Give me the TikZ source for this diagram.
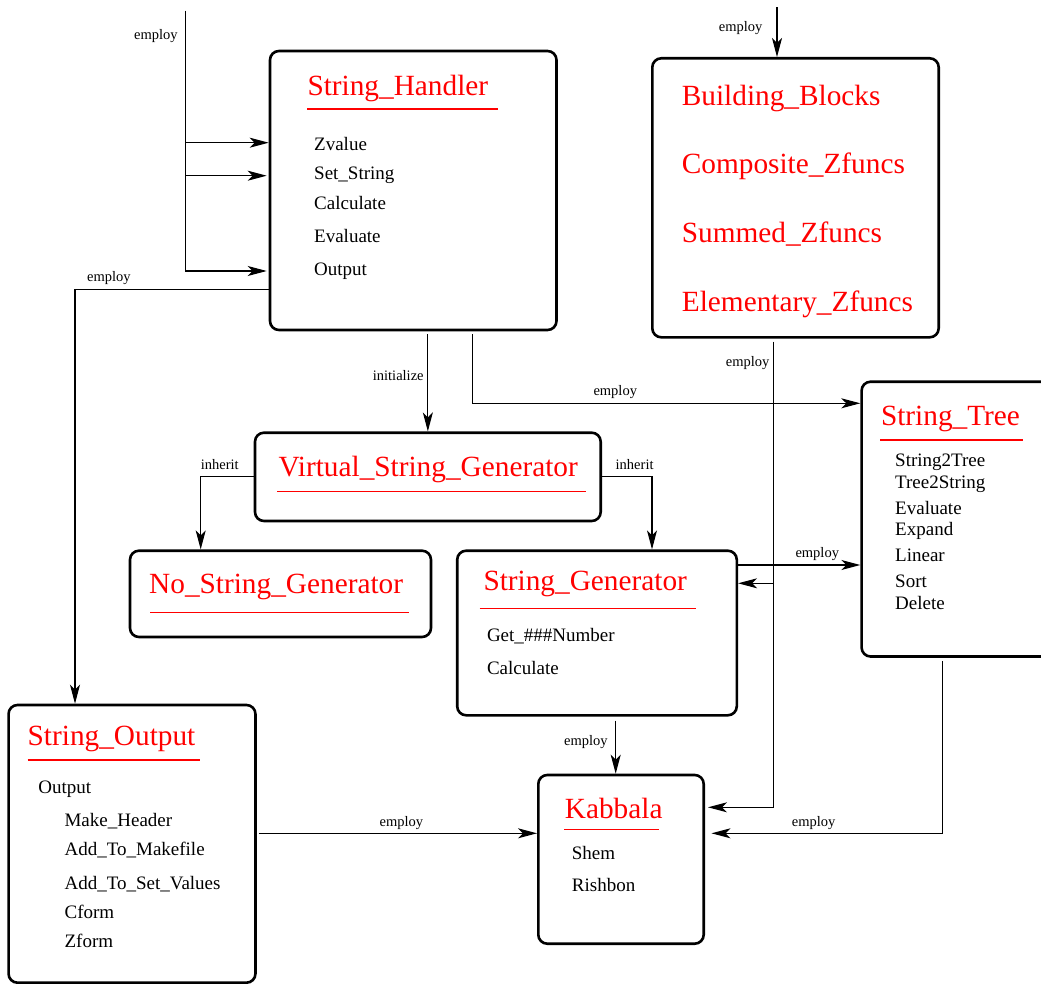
\documentclass[tikz,border=0pt]{standalone}
\usepackage{fontspec}
\setmainfont{Liberation Serif}
\usetikzlibrary{arrows.meta}
\begin{document}
\begin{tikzpicture}[x=1pt,y=-1pt,
  box/.style={draw, line width=2.6pt, rounded corners=9pt, inner sep=0pt},
  title/.style={anchor=base west, inner sep=0pt, text=red, font=\fontsize{29.3}{33}\selectfont},
  item/.style={anchor=base west, inner sep=0pt, font=\fontsize{19}{22}\selectfont},
  lbl/.style={anchor=base west, inner sep=0pt, font=\fontsize{14.5}{17}\selectfont},
  conn/.style={line width=1.1pt},
  arr/.style={conn, -{Stealth[length=19pt,width=10pt,inset=5pt]}},
  uline/.style={red, line width=1.5pt}]
\clip (0,0) rectangle (1041,984);
\fill[white] (0,0) rectangle (1041,984);

% boxes
\node[box, minimum width=286.5pt, minimum height=279pt] (sh) at (413.25,190.5) {};
\node[box, minimum width=286.4pt, minimum height=279pt] (bb) at (795.5,197.8) {};
\node[box, minimum width=345.7pt, minimum height=88.3pt] (vsg) at (427.85,476.85) {};
\node[box, minimum width=301pt, minimum height=86.3pt] (nsg) at (280.5,593.85) {};
\node[box, minimum width=279.6pt, minimum height=164.6pt] (sg) at (597,633) {};
\node[box, minimum width=198.4pt, minimum height=274.8pt] (st) at (960.8,519.1) {};
\node[box, minimum width=246.9pt, minimum height=277.7pt] (so) at (132,843.85) {};
\node[box, minimum width=165.4pt, minimum height=168.7pt] (kb) at (621,859.35) {};

% String_Handler
\node[title] (shT) at (307.3,95.7) {String\_Handler};
\draw[uline] (307.3,109) -- (497.7,109);
\node[item] (sh1) at (314,150.5) {Zvalue};
\node[item] (sh2) at (314,180) {Set\_String};
\node[item] (sh3) at (314,209.5) {Calculate};
\node[item] (sh4) at (314,242.5) {Evaluate};
\node[item] (sh5) at (314,275.5) {Output};

% Building blocks
\node[title] (bb1) at (681.7,106) {Building\_Blocks};
\node[title] (bb2) at (681.7,173.3) {Composite\_Zfuncs};
\node[title] (bb3) at (681.7,242.3) {Summed\_Zfuncs};
\node[title] (bb4) at (681.7,311.7) {Elementary\_Zfuncs};

% Virtual_String_Generator
\node[title] (vsgT) at (278.3,476.7) {Virtual\_String\_Generator};
\draw[uline] (277,491.7) -- (585.7,491.7);

% No_String_Generator
\node[title] (nsgT) at (149,593.3) {No\_String\_Generator};
\draw[uline] (150,612.7) -- (409.3,612.7);

% String_Generator
\node[title] (sgT) at (483.3,590) {String\_Generator};
\draw[uline] (479.5,608.7) -- (696,608.7);
\node[item] (sg1) at (486.8,641.7) {Get\_\#\#\#Number};
\node[item] (sg2) at (486.8,674.3) {Calculate};

% String_Tree
\node[title] (stT) at (880.8,425.7) {String\_Tree};
\draw[uline] (880,440) -- (1023,440);
\node[item] (st1) at (895,466) {String2Tree};
\node[item] (st2) at (895,488.3) {Tree2String};
\node[item] (st3) at (895,514) {Evaluate};
\node[item] (st4) at (895,535.7) {Expand};
\node[item] (st5) at (895,561.7) {Linear};
\node[item] (st6) at (895,587.3) {Sort};
\node[item] (st7) at (895,609) {Delete};

% String_Output
\node[title] (soT) at (27.5,745) {String\_Output};
\draw[uline] (27.5,760) -- (200,760);
\node[item] (so1) at (38.2,793.3) {Output};
\node[item] (so2) at (64.4,826) {Make\_Header};
\node[item] (so3) at (64.4,855.7) {Add\_To\_Makefile};
\node[item] (so4) at (64.4,889) {Add\_To\_Set\_Values};
\node[item] (so5) at (64.4,918) {Cform};
\node[item] (so6) at (64.4,947) {Zform};

% Kabbala
\node[title] (kbT) at (564.7,818.3) {Kabbala};
\draw[uline] (564,829.3) -- (659.3,829.3);
\node[item] (kb1) at (571.7,859.3) {Shem};
\node[item] (kb2) at (571.7,891.7) {Rishbon};

% connectors
\coordinate (in1) at (185.3,10.7);
\draw[arr, shorten >=2pt] (in1) |- (sh.west |- 0,271);
\draw[arr] (in1 |- 0,142.7) -- (sh.west |- 0,142.7);
\draw[arr, shorten >=2pt] (in1 |- 0,175.7) -- (sh.west |- 0,175.7);
\node[lbl] (l1) at (134,39.3) {employ};

\draw[arr] (sh.west |- 0,289.3) -| (75,0 |- so.north);
\node[lbl] (l2) at (87,281.5) {employ};

\coordinate (in2) at (777,7.3);
\draw[arr] (in2) -- (in2 |- bb.north);
\node[lbl] (l3) at (718.7,31.7) {employ};

\draw[arr, shorten <=3pt, shorten >=3pt] (773.3,0 |- bb.south) |- (kb.east |- 0,807.3);
\coordinate (j1) at (773.3,583.3);
\draw[arr] (j1) -- (sg.east |- j1);
\node[lbl] (l4) at (725.7,366.7) {employ};

\draw[arr, shorten <=3pt] (vsg.north |- sh.south) -- (vsg.north);
\node[lbl] (l5) at (372.7,380.7) {initialize};

\draw[arr, shorten <=3pt] (472.3,0 |- sh.south) |- (st.west |- 0,403.3);
\node[lbl] (l6) at (593.3,395.3) {employ};

\draw[arr] (vsg.west) -| (200.7,0 |- nsg.north);
\node[lbl] (l7) at (200.7,469.3) {inherit};
\draw[arr] (vsg.east) -| (652,0 |- sg.north);
\node[lbl] (l8) at (615.5,469.3) {inherit};

\draw[arr] (sg.east |- 0,565) -- (st.west |- 0,565);
\node[lbl] (l9) at (795.3,557.3) {employ};

\draw[arr, shorten <=4pt] (615.7,0 |- sg.south) -- (615.7,0 |- kb.north);
\node[lbl] (l10) at (564,745) {employ};

\draw[arr, shorten <=3pt, shorten >=6.5pt] (942.5,0 |- st.south) |- (kb.east |- 0,833.3);
\node[lbl] (l11) at (791.7,826) {employ};

\draw[arr, shorten <=2pt] (so.east |- 0,833.3) -- (kb.west |- 0,833.3);
\node[lbl] (l12) at (379.5,826) {employ};
\end{tikzpicture}
\end{document}
